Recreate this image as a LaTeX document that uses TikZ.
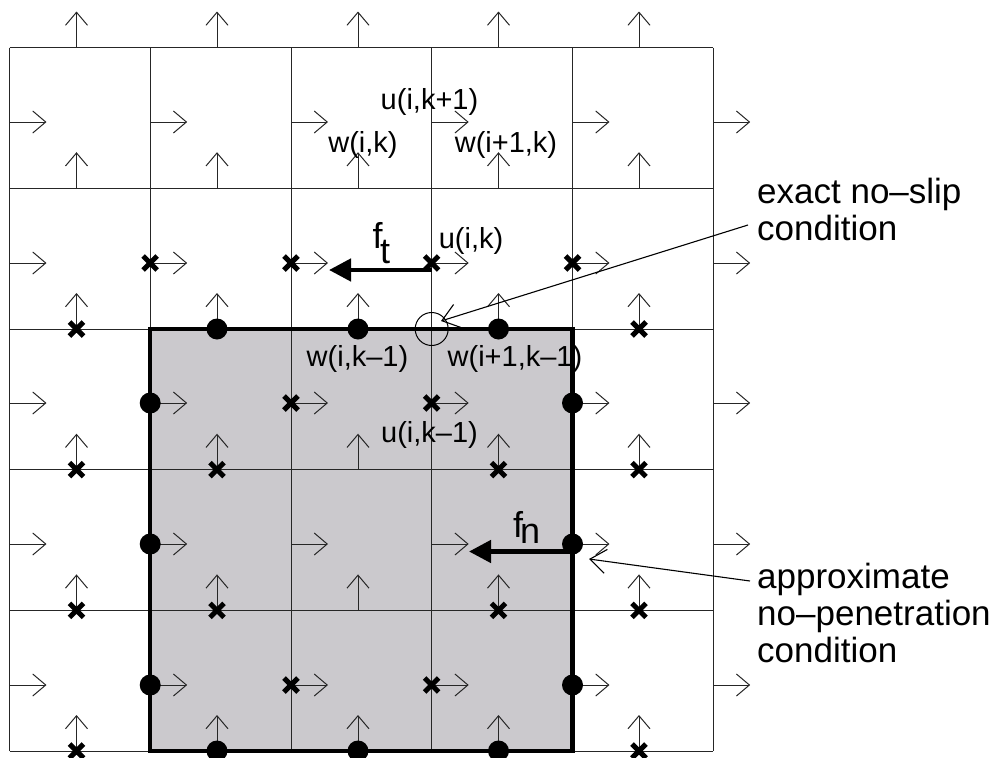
\documentclass[tikz,border=0pt]{standalone}
\usepackage{fontspec}
\setmainfont{Liberation Sans}
\usetikzlibrary{arrows.meta}
\definecolor{cellgray}{RGB}{203,201,205}
\tikzset{
  x=1pt,y=-1pt,
  grid/.style={line width=1pt,draw=black!85},
  vec/.style={line width=1pt,draw=black!85,-{Straight Barb[length=13pt,width=22pt,line width=1pt]}},
  boldvec/.style={line width=4.6pt,-{Triangle[length=22pt,width=22pt]}},
  leader/.style={line width=1.1pt,-{Straight Barb[length=16pt,width=24pt,line width=1.1pt]}},
  boundary/.style={line width=4.4pt,draw=black,miter limit=10},
  xmark/.style={line width=5pt},
  dot/.style={circle,fill=black,inner sep=0pt,minimum size=21pt},
  smalllabel/.style={inner sep=0pt,anchor=base,font=\fontsize{29}{29}\selectfont},
  sidelabel/.style={inner sep=0pt,anchor=base west,font=\fontsize{35}{35}\selectfont},
  symlabel/.style={inner sep=0pt,anchor=base west,font=\fontsize{36}{36}\selectfont},
}
\newcommand{\xcross}[1]{\draw[xmark] ([shift={(-7,-7)}]#1) -- ([shift={(7,7)}]#1) ([shift={(-7,7)}]#1) -- ([shift={(7,-7)}]#1);}
\begin{document}
\begin{tikzpicture}
\clip (0,0) rectangle (997,758);
\useasboundingbox (0,0) rectangle (997,758);
% shaded region
\fill[cellgray] (150.2,329) rectangle (572.5,751);
% grid
\foreach \gx in {9.5,150.2,291,431.7,572.5,713.2} \draw[grid] (\gx,47.5) -- (\gx,751);
\foreach \gy in {47.5,188.2,329,469.7,610.4,751} \draw[grid] (9.5,\gy) -- (713.2,\gy);
% velocity arrows
\foreach \gx in {9.5,150.2,291,431.7,572.5,713.2}
  \foreach \gy in {122,263,403,544,685}
    \draw[vec] (\gx,\gy) -- ++(37,0);
\foreach \gx in {76.5,217,358,498.5,639}
  \foreach \gy in {47.5,188.2,329,469.7,610.4,751}
    \draw[vec] (\gx,\gy) -- ++(0,-36);
% boundary
\draw[boundary] (150.2,329) rectangle (572.5,751);
% crosses
\foreach \cx/\cy [count=\ci] in {150.2/263,291/263,431.7/263,572.5/263,76.5/329,639/329,291/403,431.7/403,76.5/469.7,217/469.7,498.5/469.7,639/469.7,76.5/610.4,217/610.4,498.5/610.4,639/610.4,291/685,431.7/685,76.5/751,639/751}
  {\coordinate (x\ci) at (\cx,\cy); \xcross{x\ci}}
% dots
\foreach \cx/\cy [count=\ci] in {217/329,358/329,498.5/329,150.2/403,572.5/403,150.2/544,572.5/544,150.2/685,572.5/685,217/751,358/751,498.5/751}
  \node[dot] (d\ci) at (\cx,\cy) {};
% no-slip circle
\node[circle,draw,line width=1pt,inner sep=0pt,minimum size=33pt] (ring) at (431.7,329) {};
% bold force arrows
\coordinate (ftstart) at (431.7,270);
\coordinate (fttip) at (329,270);
\draw[boldvec] (ftstart) -- (fttip);
\coordinate (fnstart) at (572.5,551.5);
\coordinate (fntip) at (469,551.5);
\draw[boldvec] (fnstart) -- (fntip);
% labels
\node[smalllabel] (l1) at (429.5,109) {u(i,k+1)};
\node[smalllabel] (l2) at (363,152) {w(i,k)};
\node[smalllabel] (l3) at (506,152) {w(i+1,k)};
\node[smalllabel] (l4) at (471,248) {u(i,k)};
\node[smalllabel] (l5) at (357.5,366) {w(i,k–1)};
\node[smalllabel] (l6) at (515,366) {w(i+1,k–1)};
\node[smalllabel] (l7) at (429.5,442) {u(i,k–1)};
\node[symlabel] (ft) at (372.5,248) {f};
\node[symlabel] (fts) at (380,263) {t};
\node[symlabel] (fn) at (513,537) {f};
\node[symlabel] (fns) at (520,543) {n};
\node[sidelabel] (s1) at (757,203) {exact no–slip};
\node[sidelabel] (s2) at (757,240) {condition};
\node[sidelabel] (s3) at (757,588) {approximate};
\node[sidelabel] (s4) at (757,625) {no–penetration};
\node[sidelabel] (s5) at (757,662) {condition};
% leaders
\coordinate (a1) at (748,225);
\coordinate (t1) at (441,321);
\draw[leader] (a1) -- (t1);
\coordinate (a2) at (750,581);
\coordinate (t2) at (589,559);
\draw[leader] (a2) -- (t2);
\end{tikzpicture}
\end{document}
